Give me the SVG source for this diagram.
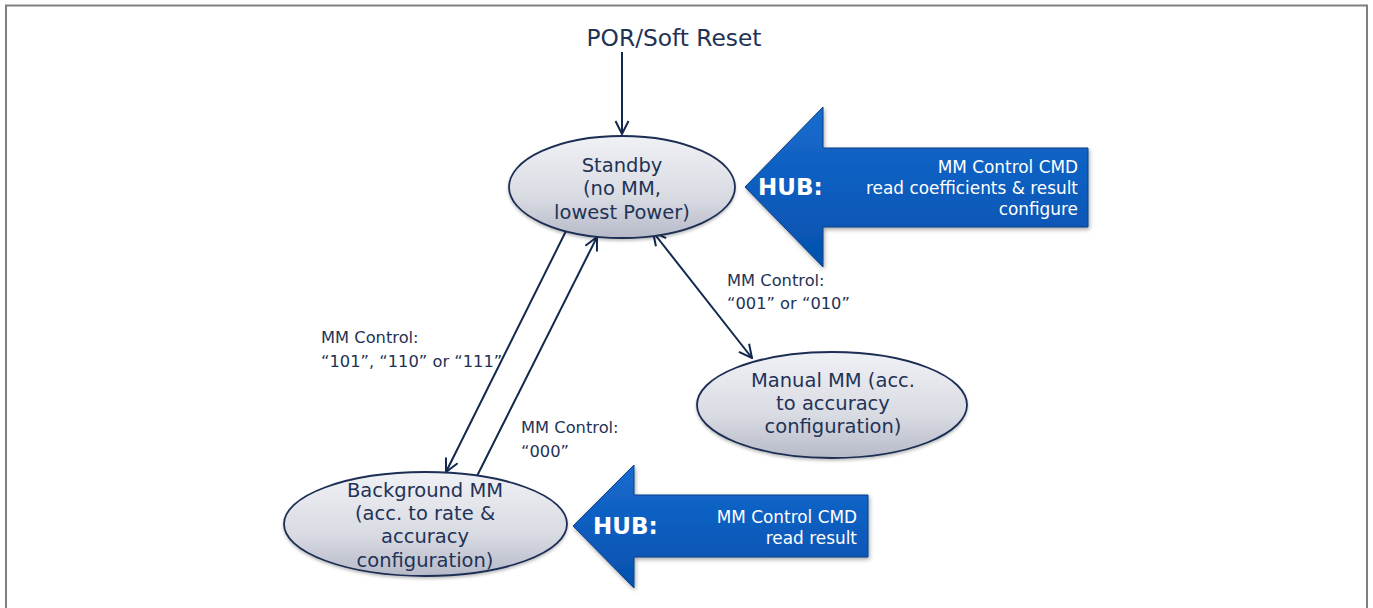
<svg xmlns="http://www.w3.org/2000/svg" width="1373" height="608" viewBox="0 0 1373 608">
<style>
.t{font-family:"DejaVu Sans","Liberation Sans",sans-serif;fill:#1f3356}
.node{font-size:19.5px;text-anchor:middle}
.lbl{font-size:16.3px}
.hub{font-family:"DejaVu Sans","Liberation Sans",sans-serif;font-weight:bold;font-size:23px;fill:#ffffff}
.cmd{font-family:"DejaVu Sans","Liberation Sans",sans-serif;font-size:16.9px;fill:#ffffff;text-anchor:end}
.ell{fill:url(#eg);stroke:#1b2d52;stroke-width:1.8;filter:url(#sh)}
.big{fill:url(#bg);stroke:#0a3f85;stroke-width:1;filter:url(#sh2)}
.con{stroke:#12284e;stroke-width:2;fill:none}
</style>
<defs>
<linearGradient id="eg" x1="0" y1="0" x2="0" y2="1">
<stop offset="0" stop-color="#f0f1f5"/>
<stop offset="0.6" stop-color="#d9dbe3"/>
<stop offset="1" stop-color="#b6bac8"/>
</linearGradient>
<linearGradient id="bg" x1="0" y1="0" x2="0" y2="1">
<stop offset="0" stop-color="#1a6ccd"/>
<stop offset="0.5" stop-color="#0b5dbf"/>
<stop offset="1" stop-color="#0452ac"/>
</linearGradient>
<filter id="sh" x="-10%" y="-10%" width="120%" height="130%">
<feDropShadow dx="0" dy="2" stdDeviation="1.5" flood-color="#000" flood-opacity="0.25"/>
</filter>
<filter id="sh2" x="-10%" y="-10%" width="120%" height="130%">
<feDropShadow dx="1" dy="2" stdDeviation="2" flood-color="#000" flood-opacity="0.35"/>
</filter>
<marker id="ah" viewBox="0 0 16 16" refX="15" refY="8" markerWidth="16" markerHeight="16" markerUnits="userSpaceOnUse" orient="auto-start-reverse">
<path d="M2,1.5 L15,8 L2,14.5" fill="none" stroke="#12284e" stroke-width="2"/>
</marker>
</defs>
<rect x="6" y="5.5" width="1361" height="620" fill="none" stroke="#7f7f7f" stroke-width="2"/>

<g id="title">
<text class="t" x="674" y="46" font-size="23.3" text-anchor="middle">POR/Soft Reset</text>
</g>

<g id="connectors">
<line class="con" x1="622" y1="52" x2="622" y2="134" marker-end="url(#ah)"/>
<line class="con" x1="566" y1="231" x2="446" y2="472" marker-end="url(#ah)"/>
<line class="con" x1="476" y1="478" x2="597" y2="237" marker-end="url(#ah)"/>
<line class="con" x1="653" y1="232" x2="752" y2="358" marker-start="url(#ah)" marker-end="url(#ah)"/>
<text class="t lbl" x="321" y="343">MM Control:</text>
<text class="t lbl" x="321" y="367">“101”, “110” or “111”</text>
<text class="t lbl" x="521" y="433">MM Control:</text>
<text class="t lbl" x="521" y="457">“000”</text>
<text class="t lbl" x="727" y="286">MM Control:</text>
<text class="t lbl" x="727" y="309">“001” or “010”</text>
</g>

<g id="standby">
<ellipse class="ell" cx="622" cy="187" rx="113" ry="51"/>
<text class="t node" x="622" y="172">Standby</text>
<text class="t node" x="622" y="195">(no MM,</text>
<text class="t node" x="622" y="219">lowest Power)</text>
</g>

<g id="manual">
<ellipse class="ell" cx="832" cy="405" rx="135" ry="53"/>
<text class="t node" x="833" y="387">Manual MM (acc.</text>
<text class="t node" x="833" y="410">to accuracy</text>
<text class="t node" x="833" y="433">configuration)</text>
</g>

<g id="background">
<ellipse class="ell" cx="425.5" cy="524" rx="141.5" ry="52"/>
<text class="t node" x="425" y="497">Background MM</text>
<text class="t node" x="425" y="520">(acc. to rate &amp;</text>
<text class="t node" x="425" y="543">accuracy</text>
<text class="t node" x="425" y="567">configuration)</text>
</g>

<g id="hub1">
<path class="big" d="M745,187 L823,107 L823,148 L1088,148 L1088,227 L823,227 L823,267 Z"/>
<text class="hub" x="758" y="195">HUB:</text>
<text class="cmd" x="1078" y="173">MM Control CMD</text>
<text class="cmd" x="1078" y="194">read coefficients &amp; result</text>
<text class="cmd" x="1078" y="215">configure</text>
</g>

<g id="hub2">
<path class="big" d="M573,526 L634,465 L634,495 L868,495 L868,557 L634,557 L634,588 Z"/>
<text class="hub" x="593" y="534">HUB:</text>
<text class="cmd" x="857" y="523">MM Control CMD</text>
<text class="cmd" x="857" y="544">read result</text>
</g>
</svg>
